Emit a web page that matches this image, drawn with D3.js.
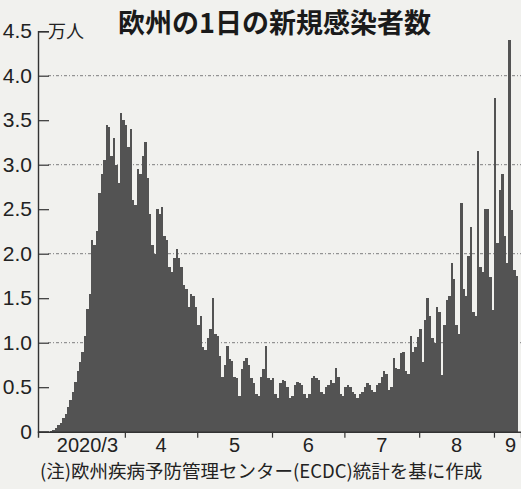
<!DOCTYPE html>
<html>
<head>
<meta charset="utf-8">
<script src="https://cdn.jsdelivr.net/npm/d3@7"></script>
<style>
  html, body { margin: 0; padding: 0; background: #f1f1ee; }
  svg { display: block; }
</style>
</head>
<body>
<svg id="chart" width="521" height="489"></svg>
<script>
// daily new cases in Europe, unit: 10,000 people (万人)
const mar = [0.01, 0.02, 0.04, 0.07, 0.1, 0.15, 0.2, 0.28, 0.36, 0.45, 0.56, 0.68, 0.78, 0.9, 1.07, 1.38,
  1.55, 2.15, 2.1, 2.25, 2.68, 2.9, 3.05, 3.45, 3.42, 3.1, 3.3, 3.0, 2.8, 3.58, 3.5]
const apr = [3.45, 3.2, 3.4, 2.6, 2.55, 2.95, 2.9, 3.1, 3.25, 2.85, 2.45, 2.1, 2.0, 2.5, 2.45, 2.52,
  2.2, 2.15, 1.85, 1.8, 1.95, 2.05, 1.95, 1.85, 1.65, 1.6, 1.4, 1.55, 1.52, 1.4]
const may = [1.2, 1.3, 0.95, 0.92, 1.05, 1.15, 1.5, 1.1, 1.08, 0.85, 0.62, 0.75, 0.96, 0.82, 0.8, 0.62,
  0.6, 0.4, 0.7, 0.8, 0.83, 0.75, 0.6, 0.55, 0.42, 0.4, 0.62, 0.7, 0.96, 0.6, 0.58]
const jun = [0.6, 0.42, 0.38, 0.55, 0.58, 0.57, 0.5, 0.38, 0.4, 0.53, 0.56, 0.55, 0.52, 0.42, 0.38,
  0.42, 0.6, 0.63, 0.6, 0.58, 0.45, 0.42, 0.5, 0.52, 0.58, 0.55, 0.72, 0.62, 0.42, 0.4]
const jul = [0.5, 0.52, 0.5, 0.45, 0.42, 0.38, 0.42, 0.45, 0.5, 0.55, 0.52, 0.47, 0.45, 0.52, 0.55,
  0.62, 0.68, 0.65, 0.47, 0.5, 0.83, 0.72, 0.7, 0.88, 0.9, 0.68, 0.65, 1.07, 0.9, 0.95, 1.06]
const aug = [1.15, 0.78, 1.25, 1.5, 1.3, 1.05, 1.0, 1.4, 1.35, 0.64, 1.2, 1.48, 1.52, 1.89, 1.72, 1.2,
  1.1, 2.57, 1.6, 1.52, 1.97, 2.3, 1.35, 1.3, 3.15, 1.85, 1.8, 2.5, 2.5, 1.74, 1.37]
const sep = [3.75, 2.12, 2.72, 2.9, 2.2, 1.89, 4.4, 2.49, 1.82, 1.75]

const monthLabels = ["2020/3", "4", "5", "6", "7", "8", "9"]
const yTicks = [0, 0.5, 1, 1.5, 2, 2.5, 3, 3.5, 4, 4.5]
const gridVals = [1, 2, 3, 4]

const title = "欧州の1日の新規感染者数"
const unit = "万人"
const note = "(注)欧州疾病予防管理センター(ECDC)統計を基に作成"

// build day rows
const months = [mar, apr, may, jun, jul, aug, sep]
var data = []
months.forEach((arr, m) => {
  arr.forEach((v, i) => data.push({ date: new Date(2020, 2 + m, 1 + i), value: v }))
})
const monthStarts = months.map((a, m) => new Date(2020, 2 + m, 1))

const svg = d3.select("#chart")
const plotLeft = 38, plotRight = 521, plotTop = 31.2, plotBottom = 431.7
const barColor = "#535353"

var x = d3.scaleTime()
  .domain([new Date(2020, 1, 25), new Date(2020, 8, 12, 5)])
  .range([plotLeft, plotRight])
var y = d3.scaleLinear().domain([0, 4.5]).range([plotBottom, plotTop])

// dotted grid
svg.append("g").selectAll("line")
  .data(gridVals)
  .enter().append("line")
  .attr("x1", plotLeft + 10).attr("x2", plotRight)
  .attr("y1", d => y(d)).attr("y2", d => y(d))
  .attr("stroke", "#707070")
  .attr("stroke-width", 0.9)
  .attr("stroke-dasharray", "3,2,1,2")

// bars, packed edge to edge like the print
svg.append("g")
  .attr("shape-rendering", "crispEdges")
  .selectAll("rect")
  .data(data)
  .enter().append("rect")
  .attr("x", d => x(d.date))
  .attr("width", d => x(d3.timeDay.offset(d.date, 1)) - x(d.date))
  .attr("y", d => y(d.value))
  .attr("height", d => y(0) - y(d.value))
  .attr("fill", barColor)

// y axis, ticks pointing into the plot
var yAxis = svg.append("g")
  .attr("transform", "translate(" + plotLeft + ",0)")
  .call(d3.axisLeft(y)
    .tickValues(yTicks)
    .tickSize(-11)
    .tickPadding(6)
    .tickFormat(d => d === 0 ? "0" : d.toFixed(1)))
yAxis.select(".domain").attr("stroke", "#333").attr("stroke-width", 1.4)
yAxis.selectAll(".tick line").attr("stroke", "#333").attr("stroke-width", 1.2)
yAxis.selectAll("text")
  .attr("font-family", "'Liberation Sans', Arial, sans-serif")
  .attr("font-size", 21)
  .attr("fill", "#222")

// x axis
var xAxis = svg.append("g")
  .attr("transform", "translate(0," + plotBottom + ")")
  .call(d3.axisBottom(x)
    .tickValues(monthStarts.slice(1))
    .tickSize(6)
    .tickFormat(""))
xAxis.select(".domain").attr("stroke", "#333").attr("stroke-width", 1.4)
xAxis.selectAll(".tick line").attr("stroke", "#333").attr("stroke-width", 1.2)

// month labels centred in each month
svg.append("g").selectAll("text")
  .data(monthStarts)
  .enter().append("text")
  .attr("x", (d, i) => {
    var end = i < monthStarts.length - 1 ? monthStarts[i + 1] : x.domain()[1]
    return (x(d) + Math.min(x(end), plotRight)) / 2 + (i === 6 ? 3 : 0)
  })
  .attr("y", 452)
  .attr("text-anchor", "middle")
  .attr("font-family", "'Liberation Sans', Arial, sans-serif")
  .attr("font-size", 20)
  .attr("fill", "#222")
  .text((d, i) => monthLabels[i])

// unit
svg.append("text")
  .attr("x", 48).attr("y", 38)
  .attr("font-family", "'Noto Sans CJK JP', sans-serif")
  .attr("font-size", 18)
  .attr("fill", "#222")
  .text(unit)

// title
svg.append("text")
  .attr("x", 118).attr("y", 33)
  .attr("font-family", "'Noto Sans CJK JP', sans-serif")
  .attr("font-weight", "bold")
  .attr("font-size", 27)
  .attr("fill", "#1a1a1a")
  .text(title)

// source note
svg.append("text")
  .attr("x", 40).attr("y", 478)
  .attr("font-family", "'Noto Sans CJK JP', sans-serif")
  .attr("font-size", 18.5)
  .attr("fill", "#222")
  .text(note)
</script>
</body>
</html>
